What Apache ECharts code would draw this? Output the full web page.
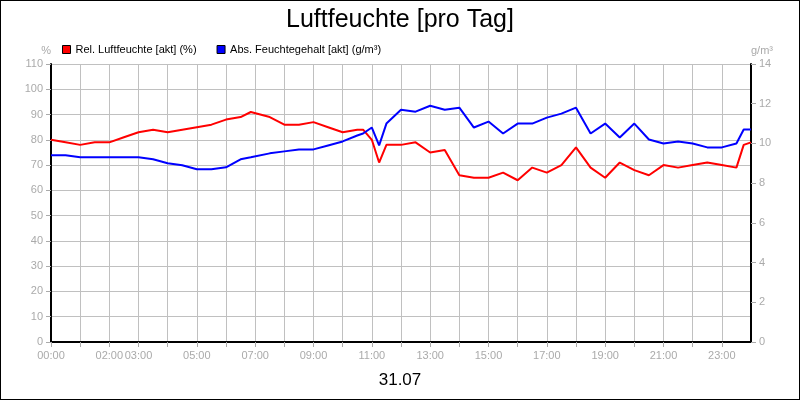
<!DOCTYPE html><html><head><meta charset="utf-8"><script src="https://cdn.jsdelivr.net/npm/echarts@6/dist/echarts.min.js"></script>
<style>body{margin:0}#c{width:798px;height:398px;border:1px solid #000}</style></head><body><div id="c"></div><script>
const hours=[0,0.5,1,1.5,2,2.5,3,3.5,4,4.5,5,5.5,6,6.5,6.85,7.5,8,8.5,9,9.5,10,10.5,10.7,11,11.25,11.5,12,12.5,13,13.5,14,14.5,15,15.5,16,16.5,17,17.5,18,18.5,19,19.5,20,20.5,21,21.5,22,22.5,23,23.5,23.75,24];
const relHum=[80,79,78,79,79,81,83,84,83,84,85,86,88,89,91,89,86,86,87,85,83,84,84,80,71,78,78,79,75,76,66,65,65,67,64,69,67,70,77,69,65,71,68,66,70,69,70,71,70,69,78,79];
const absHum=[9.4,9.4,9.3,9.3,9.3,9.3,9.3,9.2,9.0,8.9,8.7,8.7,8.8,9.2,9.3,9.5,9.6,9.7,9.7,9.9,10.1,10.4,10.5,10.8,9.9,11.0,11.7,11.6,11.9,11.7,11.8,10.8,11.1,10.5,11.0,11.0,11.3,11.5,11.8,10.5,11.0,10.3,11.0,10.2,10.0,10.1,10.0,9.8,9.8,10.0,10.7,10.7];
const shownHours=[0,2,3,5,7,9,11,13,15,17,19,21,23];
const font='Liberation Sans';
const c=echarts.init(document.getElementById('c'));
c.setOption({animation:false,textStyle:{fontFamily:font},
title:[{text:'Luftfeuchte [pro Tag]',left:'center',top:2,textStyle:{fontSize:25,fontWeight:'normal',color:'#000',fontFamily:font}},
{text:'31.07',left:'center',top:366,textStyle:{fontSize:17,fontWeight:'normal',color:'#000',fontFamily:font}}],
legend:{left:56,top:38,itemWidth:8,itemHeight:8,itemGap:20,icon:'rect',textStyle:{fontSize:11,color:'#000',fontFamily:font},
data:[{name:'Rel. Luftfeuchte [akt] (%)',itemStyle:{borderColor:'#000',borderWidth:1}},{name:'Abs. Feuchtegehalt [akt] (g/m³)',itemStyle:{borderColor:'#000',borderWidth:1}}]},
grid:{left:50,right:48,top:63,bottom:57},
xAxis:{type:'value',min:0,max:24,interval:1,axisLine:{lineStyle:{color:'#000',width:2}},axisTick:{lineStyle:{color:'#aaa'}},
splitLine:{show:true,lineStyle:{color:'#c0c0c0'}},
axisLabel:{color:'#aaa',fontSize:11,showMaxLabel:false,formatter:v=>shownHours.includes(v)?String(v).padStart(2,'0')+':00':''}},
yAxis:[{type:'value',min:0,max:110,interval:10,name:'%',nameGap:8,nameTextStyle:{color:'#aaa',fontSize:11,align:'right'},
axisLine:{show:true,lineStyle:{color:'#000',width:2}},axisTick:{show:true,lineStyle:{color:'#aaa'}},axisLabel:{color:'#aaa',fontSize:11},splitLine:{lineStyle:{color:'#c0c0c0'}}},
{type:'value',min:0,max:14,interval:2,name:'g/m³',nameGap:8,nameTextStyle:{color:'#aaa',fontSize:11,align:'left'},
axisLine:{show:true,lineStyle:{color:'#000',width:2}},axisTick:{show:true,lineStyle:{color:'#aaa'}},axisLabel:{color:'#aaa',fontSize:11},splitLine:{show:false}}],
series:[{name:'Rel. Luftfeuchte [akt] (%)',type:'line',yAxisIndex:0,showSymbol:false,color:'#ff0000',lineStyle:{width:2},data:hours.map((h,i)=>[h,relHum[i]])},
{name:'Abs. Feuchtegehalt [akt] (g/m³)',type:'line',yAxisIndex:1,showSymbol:false,color:'#0000ff',lineStyle:{width:2},data:hours.map((h,i)=>[h,absHum[i]])}]});
</script></body></html>
